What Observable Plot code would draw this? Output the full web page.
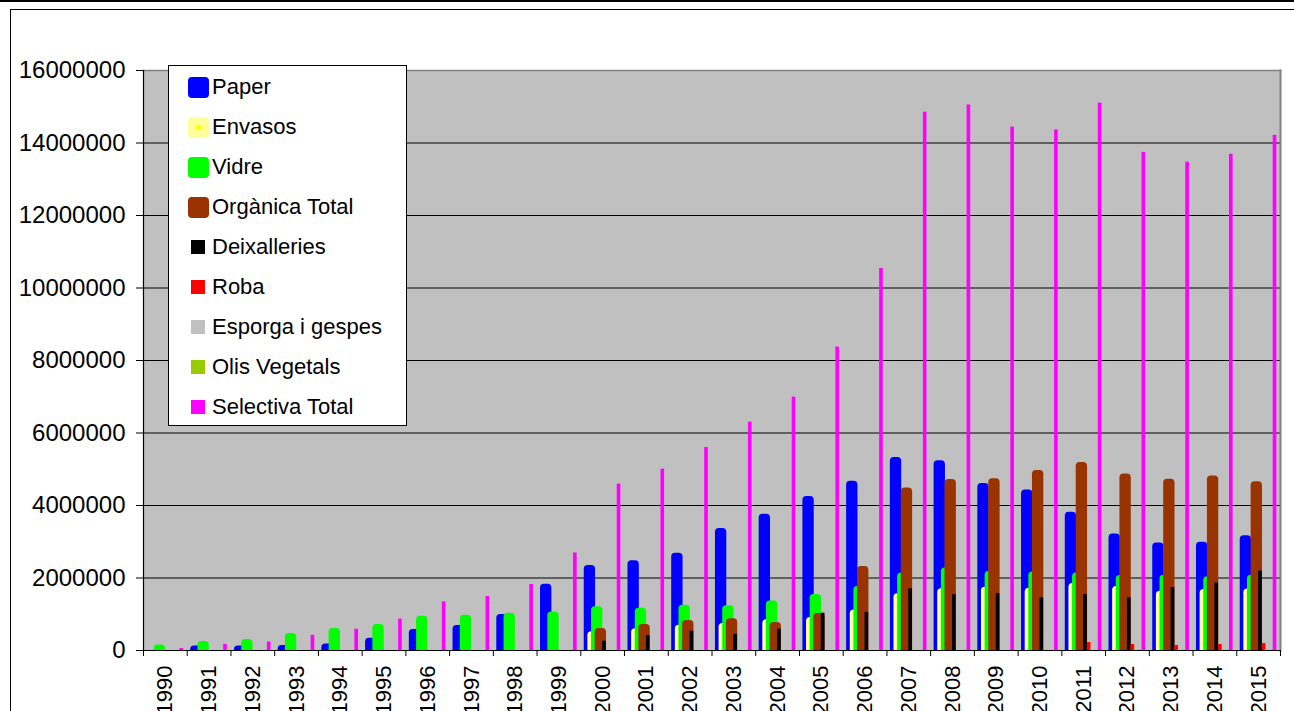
<!DOCTYPE html>
<html>
<head>
<meta charset="utf-8">
<script src="https://cdn.jsdelivr.net/npm/d3@7"></script>
<script src="https://cdn.jsdelivr.net/npm/@observablehq/plot@0.6"></script>
<style>
  html, body { margin: 0; padding: 0; background: #fff; }
  body { width: 1294px; height: 711px; position: relative; overflow: hidden; font-family: "Liberation Sans", Arial, sans-serif; }
  #topbar { position: absolute; left: 0; top: 0; width: 1294px; height: 2px; background: #000; }
  #outer { position: absolute; left: 10px; top: 9px; width: 1300px; height: 720px; border-left: 1px solid #000; border-top: 1px solid #000; }
  #chart { position: absolute; left: 0; top: 0; }
  #legend { position: absolute; left: 168px; top: 65px; width: 237px; height: 359px; background: #fff; border: 1px solid #000; }
  .row { position: absolute; left: 0; height: 40px; width: 237px; }
  .sw { position: absolute; }
  .sw.round { left: 19px; top: 10px; width: 21px; height: 21px; border-radius: 4px; }
  .sw.sq { left: 22px; top: 13px; width: 14px; height: 14px; }
  .lab { position: absolute; left: 43px; top: 0; line-height: 40px; font-size: 22px; color: #000; white-space: nowrap; }
  .dot { position: absolute; left: 8px; top: 8px; width: 5px; height: 5px; background: #ffff00; }
</style>
</head>
<body>
<div id="topbar"></div>
<div id="outer"></div>
<div id="chart"></div>
<div id="legend"></div>
<script>
// ---- data ----
const years = ["1990","1991","1992","1993","1994","1995","1996","1997","1998","1999","2000","2001","2002","2003","2004","2005","2006","2007","2008","2009","2010","2011","2012","2013","2014","2015"];
const paper = [0, 20000, 20000, 30000, 74000, 233000, 474000, 586000, 884000, 1720000, 2240000, 2370000, 2580000, 3260000, 3650000, 4140000, 4560000, 5220000, 5130000, 4500000, 4320000, 3710000, 3110000, 2860000, 2880000, 3060000];
const envasos = [0, 0, 0, 0, 0, 0, 0, 0, 0, 0, 408000, 494000, 589000, 636000, 741000, 807000, 1010000, 1460000, 1600000, 1640000, 1610000, 1740000, 1660000, 1530000, 1580000, 1590000];
const vidre = [47000, 140000, 195000, 363000, 502000, 614000, 837000, 865000, 921000, 958000, 1100000, 1060000, 1140000, 1130000, 1260000, 1440000, 1660000, 2030000, 2170000, 2070000, 2060000, 2030000, 1960000, 1970000, 1930000, 1970000];
const organica = [0, 0, 0, 0, 0, 0, 0, 0, 0, 0, 503000, 608000, 722000, 769000, 665000, 912000, 2210000, 4380000, 4610000, 4630000, 4860000, 5080000, 4760000, 4620000, 4710000, 4550000];
const deixalleries = [0, 0, 0, 0, 0, 0, 0, 0, 0, 0, 256000, 408000, 532000, 446000, 589000, 1030000, 1050000, 1700000, 1540000, 1570000, 1450000, 1540000, 1450000, 1730000, 1860000, 2190000];
const roba = [0, 0, 0, 0, 0, 0, 0, 0, 0, 0, 0, 0, 0, 0, 0, 0, 0, 0, 0, 0, 0, 220000, 165000, 140000, 165000, 190000];
const esporga = [0, 0, 0, 0, 0, 0, 0, 0, 0, 0, 0, 0, 0, 0, 0, 0, 0, 0, 20000, 20000, 20000, 20000, 20000, 20000, 20000, 20000];
const olis = [0, 0, 0, 0, 0, 0, 0, 0, 0, 0, 0, 0, 0, 0, 0, 0, 0, 0, 10000, 10000, 10000, 10000, 10000, 10000, 10000, 10000];
const selectiva = [56000, 167000, 233000, 419000, 586000, 865000, 1340000, 1490000, 1820000, 2690000, 4590000, 5000000, 5600000, 6300000, 6990000, 8370000, 10540000, 14850000, 15050000, 14440000, 14360000, 15100000, 13740000, 13470000, 13690000, 14210000];
const seriesNames = ["Paper", "Envasos", "Vidre", "Orgànica Total", "Deixalleries", "Roba", "Esporga i gespes", "Olis Vegetals", "Selectiva Total"];
const yTicks = [0, 2000000, 4000000, 6000000, 8000000, 10000000, 12000000, 14000000, 16000000];

// ---- styles ----
const seriesValues = [paper, envasos, vidre, organica, deixalleries, roba, esporga, olis, selectiva];
const fills = ["#0000ff", "#ffff00", "#00ff00", "#993300", "#000000", "#ff0000", "#c0c0c0", "#99cc00", "#ff00ff"];
const strokes = ["#0000ff", "#ffff99", "#00ff00", "#993300", null, null, null, null, null];

const W = 1294, H = 711, ML = 143, MR = 14, MT = 70, MB = 61;
const bw = (W - ML - MR) / years.length;
const s = bw / 12;

const barMarks = seriesValues.map((vals, k) => {
  const rows = years.map((y, i) => ({year: y, value: vals[i], series: seriesNames[k]}));
  const opts = {
    x: "year", y: "value", fill: fills[k],
    insetLeft: (2 + k) * s, insetRight: (9 - k) * s
  };
  if (strokes[k]) {
    Object.assign(opts, {stroke: strokes[k], strokeWidth: 7.7, strokeLinejoin: "round", clip: "frame"});
  }
  return Plot.barY(rows, opts);
});

const chart = Plot.plot({
  width: W, height: H,
  marginLeft: ML, marginRight: MR, marginTop: MT, marginBottom: MB,
  style: {fontFamily: "'Liberation Sans', Arial, sans-serif", color: "#000", background: "transparent", overflow: "visible"},
  x: {type: "band", domain: years, padding: 0, round: false, axis: null},
  y: {domain: [0, 16000000], axis: null},
  marks: [
    Plot.frame({fill: "#c0c0c0", stroke: null}),
    Plot.gridY(yTicks.slice(1, -1), {stroke: "#000", strokeOpacity: 1, strokeWidth: 1}),
    ...barMarks,
    Plot.frame({anchor: "top", stroke: "#808080", strokeWidth: 1.5}),
    Plot.frame({anchor: "right", stroke: "#808080", strokeWidth: 2}),
    Plot.ruleY([0], {stroke: "#000", strokeWidth: 1.2}),
    Plot.frame({anchor: "left", stroke: "#000", strokeWidth: 1.2}),
    Plot.axisY(yTicks, {anchor: "left", tickSize: 7, tickPadding: 11, fontSize: 24, tickFormat: d => String(d), label: null, stroke: "#000"}),
    Plot.axisX({anchor: "bottom", tickSize: 0, tickPadding: 15, tickRotate: -90, fontSize: 22, label: null}),
    Plot.axisX(years, {anchor: "bottom", tickSize: 6, tickFormat: () => "", dx: bw / 2, label: null, stroke: "#000"}),
    Plot.axisX([years[0]], {anchor: "bottom", tickSize: 6, tickFormat: () => "", dx: -bw / 2, label: null, stroke: "#000"})
  ]
});
document.getElementById("chart").appendChild(chart);

// ---- legend ----
const legend = document.getElementById("legend");
seriesNames.forEach((name, k) => {
  const row = document.createElement("div");
  row.className = "row";
  row.style.top = (0.5 + 40 * k) + "px";
  const sw = document.createElement("div");
  if (strokes[k]) {
    sw.className = "sw round";
    sw.style.background = strokes[k];
    if (strokes[k] !== fills[k]) {
      const d = document.createElement("div");
      d.className = "dot";
      d.style.background = fills[k];
      sw.appendChild(d);
    }
  } else {
    sw.className = "sw sq";
    sw.style.background = fills[k];
  }
  const lab = document.createElement("div");
  lab.className = "lab";
  lab.textContent = name;
  row.appendChild(sw);
  row.appendChild(lab);
  legend.appendChild(row);
});
</script>
</body>
</html>
